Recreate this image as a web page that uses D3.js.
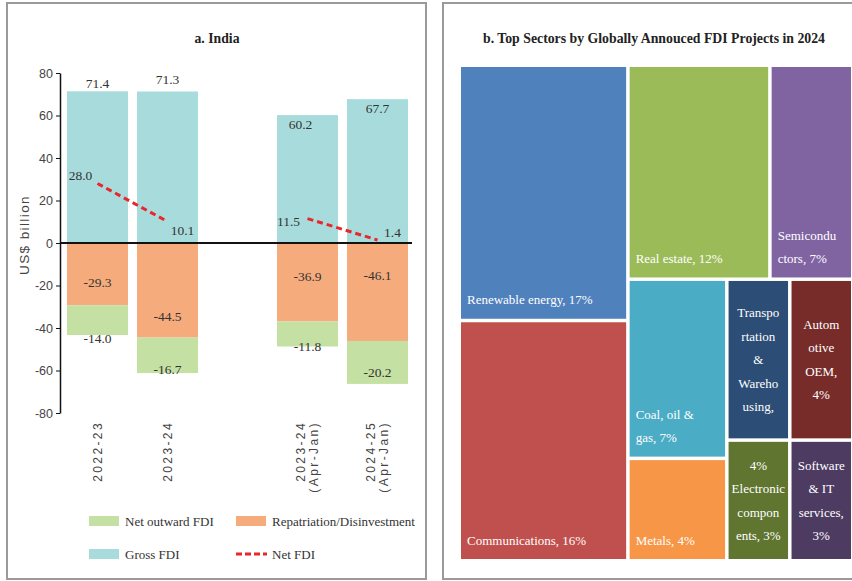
<!DOCTYPE html>
<html>
<head>
  <meta charset="utf-8" />
  <title>FDI: India and top sectors</title>
  <style>
    body { margin: 0; background: #ffffff; }
    svg text { font-family: 'Liberation Serif', 'DejaVu Serif', serif; fill: #333; }
    svg text.sans { font-family: 'Liberation Sans', Arial, sans-serif; }
  </style>
  <script src="https://cdnjs.cloudflare.com/ajax/libs/d3/7.8.5/d3.min.js"></script>
</head>
<body>
  <div id="chart"></div>
  <script>
    // ---- panel a data (US$ billion)
    var periods = ["2022-23", "2023-24", "2023-24 (Apr-Jan)", "2024-25 (Apr-Jan)"];
    var grossFdi = [71.4, 71.3, 60.2, 67.7];
    var repatriation = [-29.3, -44.5, -36.9, -46.1];
    var netOutward = [-14.0, -16.7, -11.8, -20.2];
    var netFdi = [28.0, 10.1, 11.5, 1.4];
    var yTicks = [-80, -60, -40, -20, 0, 20, 40, 60, 80];

    // ---- panel b data (share of announced projects)
    var sectors = ["Renewable energy", "Communications", "Real estate", "Semiconductors",
      "Coal, oil & gas", "Metals", "Transportation & Warehousing", "Automotive OEM",
      "Electronic components", "Software & IT services"];
    var shares = [17, 16, 12, 7, 7, 4, 4, 4, 3, 3];
    var sectorLabels = [
      ["Renewable energy, 17%"], ["Communications, 16%"], ["Real estate, 12%"],
      ["Semicondu", "ctors, 7%"], ["Coal, oil &", "gas, 7%"], ["Metals, 4%"],
      ["Transpo", "rtation", "&", "Wareho", "using,"], ["Autom", "otive", "OEM,", "4%"],
      ["4%", "Electronic", "compon", "ents, 3%"], ["Software", "& IT", "services,", "3%"]];
    var sectorColors = ["#4f81bd", "#c0504d", "#9bbb59", "#8064a2", "#4bacc6",
      "#f79646", "#2c4d75", "#772c2a", "#5f7530", "#4d3b62"];

    var W = 852, H = 581;
    var svg = d3.select("#chart").append("svg").attr("width", W).attr("height", H);

    // panel frames
    svg.append("rect").attr("x", 7).attr("y", 3).attr("width", 419).attr("height", 576)
      .attr("fill", "none").attr("stroke", "#9a9a9a").attr("stroke-width", 2);
    svg.append("rect").attr("x", 443).attr("y", 3).attr("width", 420).attr("height", 576)
      .attr("fill", "none").attr("stroke", "#9a9a9a").attr("stroke-width", 2);

    // ================= a. India =================
    svg.append("text").attr("x", 217).attr("y", 43).attr("text-anchor", "middle")
      .attr("font-size", "15px").attr("font-weight", "bold").style("fill", "#222")
      .attr("textLength", 45).attr("lengthAdjust", "spacingAndGlyphs")
      .text("a. India");

    var slots = [periods[0], periods[1], "_gap", periods[2], periods[3]];
    var x = d3.scaleBand().domain(slots).range([62.5, 412.5])
      .paddingInner(0.1286).paddingOuter(0.0643);
    var y = d3.scaleLinear().domain([-80, 80]).range([413, 73]);

    var colGross = "#a8dcdc", colRep = "#f5ab7c", colOut = "#c4e0a2", colNet = "#e8262c";

    var rows = periods.map(function (p, i) {
      return { p: p, g: grossFdi[i], r: repatriation[i], o: netOutward[i], n: netFdi[i] };
    });

    var bars = svg.append("g");
    bars.selectAll(".g").data(rows).enter().append("rect")
      .attr("x", function (d) { return x(d.p); })
      .attr("y", function (d) { return y(d.g); })
      .attr("width", x.bandwidth())
      .attr("height", function (d) { return y(0) - y(d.g); })
      .attr("fill", colGross);
    bars.selectAll(".r").data(rows).enter().append("rect")
      .attr("x", function (d) { return x(d.p); })
      .attr("y", y(0))
      .attr("width", x.bandwidth())
      .attr("height", function (d) { return y(d.r) - y(0); })
      .attr("fill", colRep);
    bars.selectAll(".o").data(rows).enter().append("rect")
      .attr("x", function (d) { return x(d.p); })
      .attr("y", function (d) { return y(d.r); })
      .attr("width", x.bandwidth())
      .attr("height", function (d) { return y(d.r + d.o) - y(d.r); })
      .attr("fill", colOut);

    // zero line
    svg.append("line").attr("x1", 60).attr("x2", 412).attr("y1", y(0)).attr("y2", y(0))
      .attr("stroke", "#111").attr("stroke-width", 2);

    // y axis
    var yAxis = svg.append("g").attr("transform", "translate(60,0)")
      .call(d3.axisLeft(y).tickValues(yTicks).tickSize(4).tickSizeOuter(0).tickPadding(3)
        .tickFormat(function (d) { return String(d); }));
    yAxis.select(".domain").attr("stroke", "#111").attr("stroke-width", 1.5);
    yAxis.selectAll(".tick line").attr("stroke", "#111");
    yAxis.selectAll("text").attr("class", "sans").attr("font-size", "12.5px")
      .attr("font-family", null).style("fill", "#444");

    svg.append("text").attr("class", "sans").attr("transform", "translate(24,235) rotate(-90)")
      .attr("text-anchor", "middle").attr("dy", "0.35em").attr("font-size", "13.5px")
      .attr("letter-spacing", "1.4px").style("fill", "#444").text("US$ billion");

    // x labels (rotated)
    periods.forEach(function (p) {
      var parts = p.split(" ");
      var cx = x(p) + x.bandwidth() / 2 - (parts.length - 1) * 6.5;
      var t = svg.append("text").attr("class", "sans")
        .attr("transform", "translate(" + cx + ",421) rotate(-90)")
        .attr("text-anchor", "end").attr("font-size", "12px").attr("letter-spacing", "2.4px")
        .style("fill", "#444");
      parts.forEach(function (s, k) {
        t.append("tspan").attr("x", 0).attr("dy", k === 0 ? "0.35em" : "13px").text(s);
      });
    });

    // net FDI dashed segments (annual pair and Apr-Jan pair)
    var line = d3.line()
      .x(function (d) { return x(d.p) + x.bandwidth() / 2; })
      .y(function (d) { return y(d.n); });
    [[0, 1], [2, 3]].forEach(function (seg) {
      svg.append("path").datum(seg.map(function (i) { return rows[i]; }))
        .attr("d", line).attr("fill", "none").attr("stroke", colNet)
        .attr("stroke-width", 3).attr("stroke-dasharray", "6,4");
    });

    // data labels
    var grossDx = [0, 0, -7, 0], grossDy = [-8, -12, 9, 9];
    var repDy = [8, 26, -6, -17];
    var outDy = [3, -4, 0, -12];
    var netDx = [-17, 15, -19, 15], netDy = [-8, 9, 3, -8];
    var lab = svg.append("g").attr("font-size", "13.5px").attr("text-anchor", "middle");
    function addLabel(cx, cy, v) {
      lab.append("text").attr("x", cx).attr("y", cy).attr("dy", "0.35em").text(v.toFixed(1));
    }
    rows.forEach(function (d, i) {
      var cx = x(d.p) + x.bandwidth() / 2;
      addLabel(cx + grossDx[i], y(d.g) + grossDy[i], d.g);
      addLabel(cx, (y(0) + y(d.r)) / 2 + repDy[i], d.r);
      addLabel(cx, y(d.r + d.o) + outDy[i], d.o);
      addLabel(cx + netDx[i], y(d.n) + netDy[i], d.n);
    });

    // legend
    var legend = [
      { name: "Net outward FDI", color: colOut, lx: 89, ly: 521 },
      { name: "Repatriation/Disinvestment", color: colRep, lx: 236, ly: 521 },
      { name: "Gross FDI", color: colGross, lx: 89, ly: 554 },
      { name: "Net FDI", color: colNet, lx: 236, ly: 554, dash: true }
    ];
    legend.forEach(function (l) {
      if (l.dash) {
        svg.append("line").attr("x1", l.lx).attr("x2", l.lx + 31).attr("y1", l.ly).attr("y2", l.ly)
          .attr("stroke", l.color).attr("stroke-width", 3).attr("stroke-dasharray", "6,3");
      } else {
        svg.append("rect").attr("x", l.lx).attr("y", l.ly - 5).attr("width", 30).attr("height", 10)
          .attr("fill", l.color);
      }
      svg.append("text").attr("x", l.lx + 36).attr("y", l.ly).attr("dy", "0.35em")
        .attr("font-size", "13px").text(l.name);
    });

    // ================= b. Treemap =================
    svg.append("text").attr("x", 654).attr("y", 43).attr("text-anchor", "middle")
      .attr("font-size", "14px").attr("font-weight", "bold").style("fill", "#222")
      .attr("textLength", 342).attr("lengthAdjust", "spacingAndGlyphs")
      .text("b. Top Sectors by Globally Annouced FDI Projects in 2024");

    function leaf(i) { return { i: i, value: shares[i] }; }
    // nested groups reproduce the spreadsheet's tiling order
    var tree = { dir: "x", children: [
      { dir: "y", children: [leaf(0), leaf(1)] },
      { dir: "y", children: [
        { dir: "x", children: [leaf(2), leaf(3)] },
        { dir: "x", children: [
          { dir: "y", children: [leaf(4), leaf(5)] },
          { dir: "y", children: [
            { dir: "x", children: [leaf(6), leaf(7)] },
            { dir: "x", children: [leaf(8), leaf(9)] }
          ] }
        ] }
      ] }
    ] };

    var root = d3.hierarchy(tree).sum(function (d) { return d.children ? 0 : d.value; });
    d3.treemap()
      .size([390, 492])
      .paddingInner(3.5)
      .tile(function (node, x0, y0, x1, y1) {
        if (node.data.dir === "x") d3.treemapDice(node, x0, y0, x1, y1);
        else d3.treemapSlice(node, x0, y0, x1, y1);
      })(root);

    var tm = svg.append("g").attr("transform", "translate(461,67)");
    var leaves = root.leaves();
    tm.selectAll("rect").data(leaves).enter().append("rect")
      .attr("x", function (d) { return d.x0; })
      .attr("y", function (d) { return d.y0; })
      .attr("width", function (d) { return d.x1 - d.x0; })
      .attr("height", function (d) { return d.y1 - d.y0; })
      .attr("fill", function (d) { return sectorColors[d.data.i]; })
      .append("title").text(function (d) { return sectors[d.data.i] + ", " + shares[d.data.i] + "%"; });

    var lh = 23.5;
    leaves.forEach(function (d) {
      var lines = sectorLabels[d.data.i];
      var w = d.x1 - d.x0;
      var t = tm.append("text").attr("font-size", "13px").style("fill", "#ffffff");
      var centered = w < 70;
      var tx = centered ? (d.x0 + d.x1) / 2 : d.x0 + 6;
      var firstY = centered
        ? (d.y0 + d.y1) / 2 - (lines.length - 1) * lh / 2
        : d.y1 - 19 - (lines.length - 1) * lh;
      t.attr("text-anchor", centered ? "middle" : "start");
      lines.forEach(function (s, k) {
        t.append("tspan").attr("x", tx).attr("y", firstY + k * lh).attr("dy", "0.35em").text(s);
      });
    });
  </script>
</body>
</html>
